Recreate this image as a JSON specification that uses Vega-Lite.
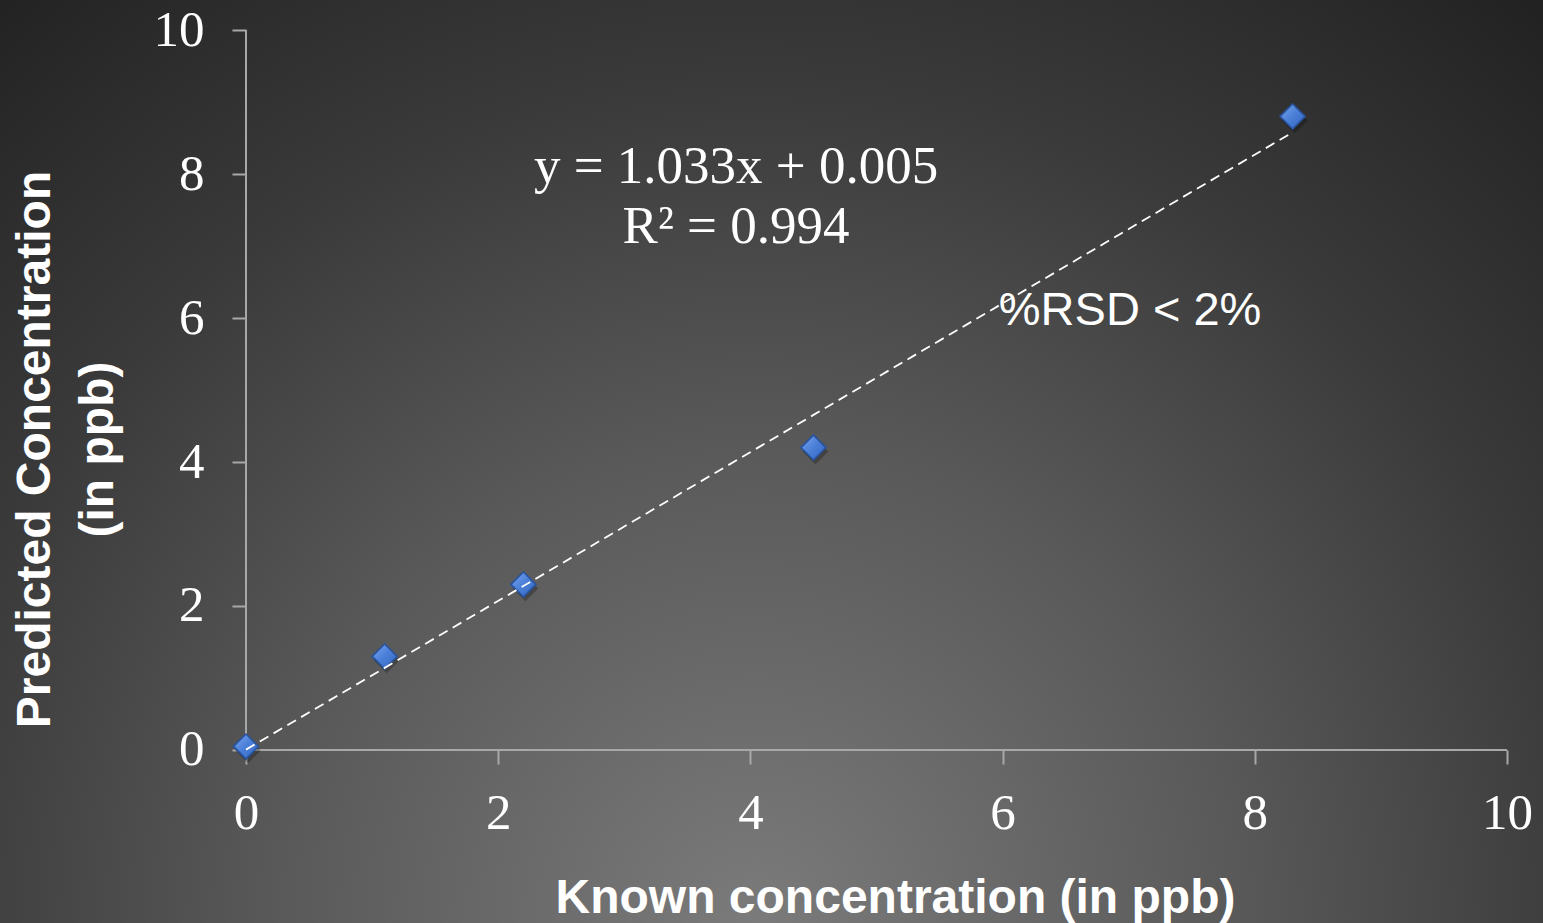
{
  "$schema": "https://vega.github.io/schema/vega-lite/v6.json",
  "width": 1543,
  "height": 923,
  "autosize": {"type": "none"},
  "padding": 0,
  "background": "#262626",
  "config": {
    "view": {
      "stroke": null,
      "fill": {
        "gradient": "radial",
        "x1": 0.49, "y1": 0.8, "r1": 0,
        "x2": 0.49, "y2": 0.8, "r2": 0.78,
        "stops": [
          {"offset": 0, "color": "#7b7b7b"},
          {"offset": 0.4, "color": "#595959"},
          {"offset": 0.7, "color": "#3a3a3a"},
          {"offset": 1, "color": "#222222"}
        ]
      }
    },
    "axis": {"grid": false, "domain": false}
  },
  "datasets": {
    "calibration": [
      {"known": 0, "predicted": 0.05},
      {"known": 1.1, "predicted": 1.3},
      {"known": 2.2, "predicted": 2.3},
      {"known": 4.5, "predicted": 4.2},
      {"known": 8.3, "predicted": 8.8}
    ],
    "trend": [
      {"known": 0, "fitted": 0.005},
      {"known": 8.3, "fitted": 8.579}
    ],
    "notes": [
      {"equation": "y = 1.033x + 0.005\nR² = 0.994", "rsd": "%RSD < 2%"}
    ]
  },
  "layer": [
    {
      "data": {"name": "calibration"},
      "mark": {
        "type": "point",
        "shape": "diamond",
        "filled": true,
        "size": 620,
        "opacity": 1,
        "fill": {
          "gradient": "linear",
          "x1": 0, "y1": 0, "x2": 1, "y2": 1,
          "stops": [
            {"offset": 0, "color": "#7aa6ec"},
            {"offset": 0.5, "color": "#4a7fd8"},
            {"offset": 1, "color": "#3565bd"}
          ]
        },
        "stroke": "#2a549e",
        "strokeWidth": 1.5
      },
      "encoding": {
        "x": {
          "field": "known",
          "type": "quantitative",
          "scale": {"domain": [-1.9508, 10.2855], "nice": false, "zero": false},
          "axis": {
            "orient": "bottom",
            "offset": -173,
            "values": [0, 2, 4, 6, 8, 10],
            "format": "d",
            "domain": false,
            "grid": false,
            "tickSize": 14,
            "tickWidth": 2,
            "tickColor": "#a8a8a8",
            "labelFont": "Liberation Serif",
            "labelFontSize": 51,
            "labelColor": "#ffffff",
            "labelPadding": 24,
            "labelFlush": false,
            "labelOverlap": false,
            "title": "Known concentration (in ppb)",
            "titleFont": "Liberation Sans",
            "titleFontWeight": "bold",
            "titleFontSize": 48,
            "titleColor": "#ffffff",
            "titleX": 895,
            "titleY": 162,
            "titleAlign": "center",
            "titleBaseline": "alphabetic"
          }
        },
        "y": {
          "field": "predicted",
          "type": "quantitative",
          "scale": {"domain": [-2.4028, 10.4167], "nice": false, "zero": false},
          "axis": {
            "orient": "left",
            "offset": -246,
            "values": [0, 2, 4, 6, 8, 10],
            "format": "d",
            "domain": false,
            "grid": false,
            "tickSize": 14,
            "tickWidth": 2,
            "tickColor": "#a8a8a8",
            "labelFont": "Liberation Serif",
            "labelFontSize": 51,
            "labelColor": "#ffffff",
            "labelPadding": 28,
            "labelFlush": false,
            "labelOverlap": false,
            "title": ["Predicted Concentration", "(in ppb)"],
            "titleFont": "Liberation Sans",
            "titleFontWeight": "bold",
            "titleFontSize": 48,
            "titleColor": "#ffffff",
            "titleAngle": -90,
            "titleX": -211,
            "titleY": 449,
            "titleAlign": "center",
            "titleBaseline": "middle",
            "titleLineHeight": 63
          }
        }
      }
    },
    {
      "data": {"values": [{}]},
      "mark": {"type": "rule", "color": "#a8a8a8", "strokeWidth": 2},
      "encoding": {
        "x": {"datum": 0, "type": "quantitative", "scale": {"domain": [-1.9508, 10.2855], "nice": false, "zero": false}},
        "x2": {"datum": 10},
        "y": {"datum": 0, "type": "quantitative", "scale": {"domain": [-2.4028, 10.4167], "nice": false, "zero": false}}
      }
    },
    {
      "data": {"values": [{}]},
      "mark": {"type": "rule", "color": "#a8a8a8", "strokeWidth": 2},
      "encoding": {
        "x": {"datum": 0, "type": "quantitative", "scale": {"domain": [-1.9508, 10.2855], "nice": false, "zero": false}},
        "y": {"datum": 0, "type": "quantitative", "scale": {"domain": [-2.4028, 10.4167], "nice": false, "zero": false}},
        "y2": {"datum": 10}
      }
    },
    {
      "data": {"name": "calibration"},
      "mark": {"type": "point", "shape": "diamond", "filled": true, "size": 660, "color": "#000000", "opacity": 0.25, "xOffset": 2, "yOffset": 4},
      "encoding": {
        "x": {"field": "known", "type": "quantitative", "scale": {"domain": [-1.9508, 10.2855], "nice": false, "zero": false}},
        "y": {"field": "predicted", "type": "quantitative", "scale": {"domain": [-2.4028, 10.4167], "nice": false, "zero": false}}
      }
    },
    {
      "data": {"name": "calibration"},
      "mark": {
        "type": "point",
        "shape": "diamond",
        "filled": true,
        "size": 620,
        "opacity": 1,
        "fill": {
          "gradient": "linear",
          "x1": 0, "y1": 0, "x2": 1, "y2": 1,
          "stops": [
            {"offset": 0, "color": "#7aa6ec"},
            {"offset": 0.5, "color": "#4a7fd8"},
            {"offset": 1, "color": "#3565bd"}
          ]
        },
        "stroke": "#2a549e",
        "strokeWidth": 1.5
      },
      "encoding": {
        "x": {"field": "known", "type": "quantitative", "scale": {"domain": [-1.9508, 10.2855], "nice": false, "zero": false}},
        "y": {"field": "predicted", "type": "quantitative", "scale": {"domain": [-2.4028, 10.4167], "nice": false, "zero": false}}
      }
    },
    {
      "data": {"name": "trend"},
      "mark": {"type": "line", "color": "#ffffff", "strokeWidth": 1.8, "strokeDash": [10, 6]},
      "encoding": {
        "x": {"field": "known", "type": "quantitative", "scale": {"domain": [-1.9508, 10.2855], "nice": false, "zero": false}},
        "y": {"field": "fitted", "type": "quantitative", "scale": {"domain": [-2.4028, 10.4167], "nice": false, "zero": false}}
      }
    },
    {
      "data": {"name": "notes"},
      "mark": {"type": "text", "font": "Liberation Serif", "fontSize": 53, "color": "#ffffff", "align": "center", "baseline": "alphabetic", "lineBreak": "\n", "lineHeight": 60},
      "encoding": {
        "x": {"datum": 3.886, "type": "quantitative", "scale": {"domain": [-1.9508, 10.2855], "nice": false, "zero": false}},
        "y": {"datum": 7.875, "type": "quantitative", "scale": {"domain": [-2.4028, 10.4167], "nice": false, "zero": false}},
        "text": {"field": "equation"}
      }
    },
    {
      "data": {"name": "notes"},
      "mark": {"type": "text", "font": "Liberation Sans", "fontSize": 47, "color": "#ffffff", "align": "left", "baseline": "alphabetic"},
      "encoding": {
        "x": {"datum": 5.97, "type": "quantitative", "scale": {"domain": [-1.9508, 10.2855], "nice": false, "zero": false}},
        "y": {"datum": 5.903, "type": "quantitative", "scale": {"domain": [-2.4028, 10.4167], "nice": false, "zero": false}},
        "text": {"field": "rsd"}
      }
    }
  ]
}
